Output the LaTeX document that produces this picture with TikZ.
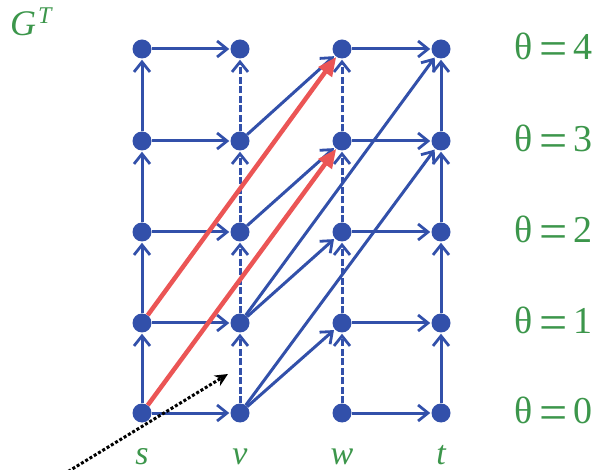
\documentclass[tikz,border=0pt]{standalone}
\usepackage{fontspec}
\setmainfont{Liberation Serif}
\usetikzlibrary{arrows.meta}
\definecolor{nodeblue}{RGB}{50,80,170}
\definecolor{edgered}{RGB}{235,85,85}
\definecolor{labgreen}{RGB}{60,150,75}
\newcommand{\bigeq}{\raisebox{-6pt}{\fontsize{50}{50}\selectfont =}}
\begin{document}
\begin{tikzpicture}[x=1pt,y=-1pt,
  dot/.style={circle,fill=nodeblue,minimum size=19pt,inner sep=0pt},
  edge/.style={draw=nodeblue,line width=3pt,-{Straight Barb[length=10pt,width=16pt,line width=2.8pt]},shorten >=1pt},
  dedge/.style={edge,dash pattern=on 7pt off 2.5pt},
  redge/.style={draw=edgered,line width=4.5pt,-{Triangle[length=19pt,width=16pt]}},
  collab/.style={text=labgreen,font=\fontsize{34}{34}\selectfont\itshape,anchor=base,inner sep=0pt},
  thetalab/.style={text=labgreen,font=\fontsize{38}{40}\selectfont,anchor=west},
  pointer/.style={draw=black,line width=3pt,dotted,-{Stealth[length=13pt,width=12pt]}}]
\useasboundingbox (0,0) rectangle (608,470);
% nodes
\foreach \c/\x in {s/142,v/240,w/342,t/441}
  \foreach \r/\y in {0/413,1/323,2/232,3/141,4/49}
    \node[dot] (\c\r) at (\x,\y) {};
% horizontal edges
\foreach \r in {0,...,4} {
  \draw[edge] (s\r) -- (v\r);
  \draw[edge] (w\r) -- (t\r);
}
% vertical and diagonal edges
\foreach \r/\n in {0/1,1/2,2/3,3/4} {
  \draw[edge] (s\r) -- (s\n);
  \draw[dedge] (v\r) -- (v\n);
  \draw[dedge] (w\r) -- (w\n);
  \draw[edge] (t\r) -- (t\n);
  \draw[edge] (v\r) -- (w\n);
}
\draw[edge] (v0) -- (t3);
\draw[edge] (v1) -- (t4);
% red edges
\draw[redge] (s1) -- (w4);
\draw[redge] (s0) -- (w3);
% dotted pointer
\coordinate (pstart) at (64,474);
\coordinate (pend) at (228,374);
\draw[pointer] (pstart) -- (pend);
% column labels
\node[collab] (ls) at (142,464) {s};
\node[collab] (lv) at (240,464) {v};
\node[collab] (lw) at (342,464) {w};
\node[collab] (lt) at (441,464) {t};
% theta labels
\node[thetalab] (th4) at (511,49) {θ\,\bigeq\,4};
\node[thetalab] (th3) at (511,141) {θ\,\bigeq\,3};
\node[thetalab] (th2) at (511,232) {θ\,\bigeq\,2};
\node[thetalab] (th1) at (511,323) {θ\,\bigeq\,1};
\node[thetalab] (th0) at (511,413) {θ\,\bigeq\,0};
% title
\node[text=labgreen,anchor=base west,inner sep=0pt] (title) at (10,36)
  {\fontsize{36}{36}\selectfont\itshape G\hspace{2pt}\raisebox{12pt}{\fontsize{24}{24}\selectfont T}};
\end{tikzpicture}
\end{document}
